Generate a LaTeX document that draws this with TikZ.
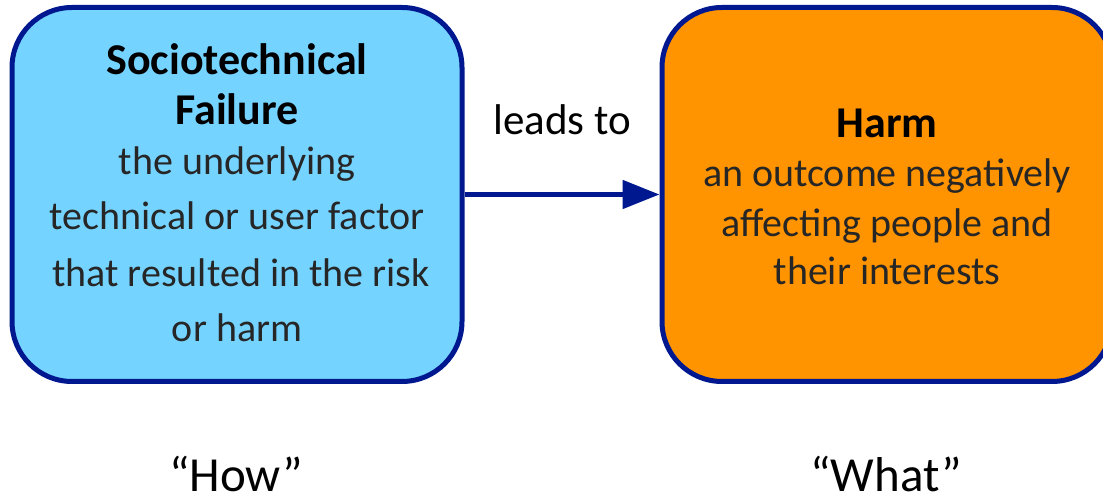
\documentclass[tikz,border=0pt]{standalone}
\usepackage{fontspec}
\setmainfont{Carlito}
\usetikzlibrary{arrows.meta}
\definecolor{navy}{HTML}{00188F}
\definecolor{skyfill}{HTML}{75D3FF}
\definecolor{orangefill}{HTML}{FF9400}
\definecolor{bodygray}{HTML}{262626}
\tikzset{
  box/.style={draw=navy, line width=5pt, rounded corners=60pt, minimum width=450pt, minimum height=374pt, inner sep=0pt},
  ttl/.style={anchor=base, inner sep=0pt, font=\fontsize{44}{50}\selectfont\bfseries, text=black},
  bdy/.style={anchor=base, inner sep=0pt, font=\fontsize{40}{48}\selectfont, text=bodygray},
  lbl/.style={anchor=base, inner sep=0pt, font=\fontsize{43}{50}\selectfont, text=black},
  bottomlabel/.style={anchor=base, inner sep=0pt, text depth=0pt, font=\fontsize{49}{56}\selectfont, text=black},
  conn/.style={draw=navy, line width=5pt, -{Triangle[length=37pt,width=28pt]}}
}
\begin{document}
\begin{tikzpicture}[x=1pt,y=1pt]
\useasboundingbox (0,0) rectangle (1103,502);
\node[box, fill=skyfill] (fail) at (237,307.5) {};
\node[box, fill=orangefill] (harm) at (887,307.5) {};
\draw[conn] (fail) -- (harm);
% left text
\node[ttl] (l1) at (237,427) {Sociotechnical};
\node[ttl] (l2) at (237,377) {Failure};
\node[bdy] (l3) at (237,327) {the underlying};
\node[bdy] (l4) at (237,272) {technical or user factor};
\node[bdy] (l5) at (241,215) {that resulted in the risk};
\node[bdy] (l6) at (237,160) {or harm};
% right text
\node[ttl] (r1) at (887,364) {Harm};
\node[bdy] (r2) at (887,315) {an outcome negatively};
\node[bdy] (r3) at (887,265) {affecting people and};
\node[bdy] (r4) at (887,217) {their interests};
% labels
\node[lbl] (lead) at (562,367) {leads to};
\node[bottomlabel] (how) at (236,10) {“How”};
\node[bottomlabel] (what) at (886,10) {“What”};
\end{tikzpicture}
\end{document}
